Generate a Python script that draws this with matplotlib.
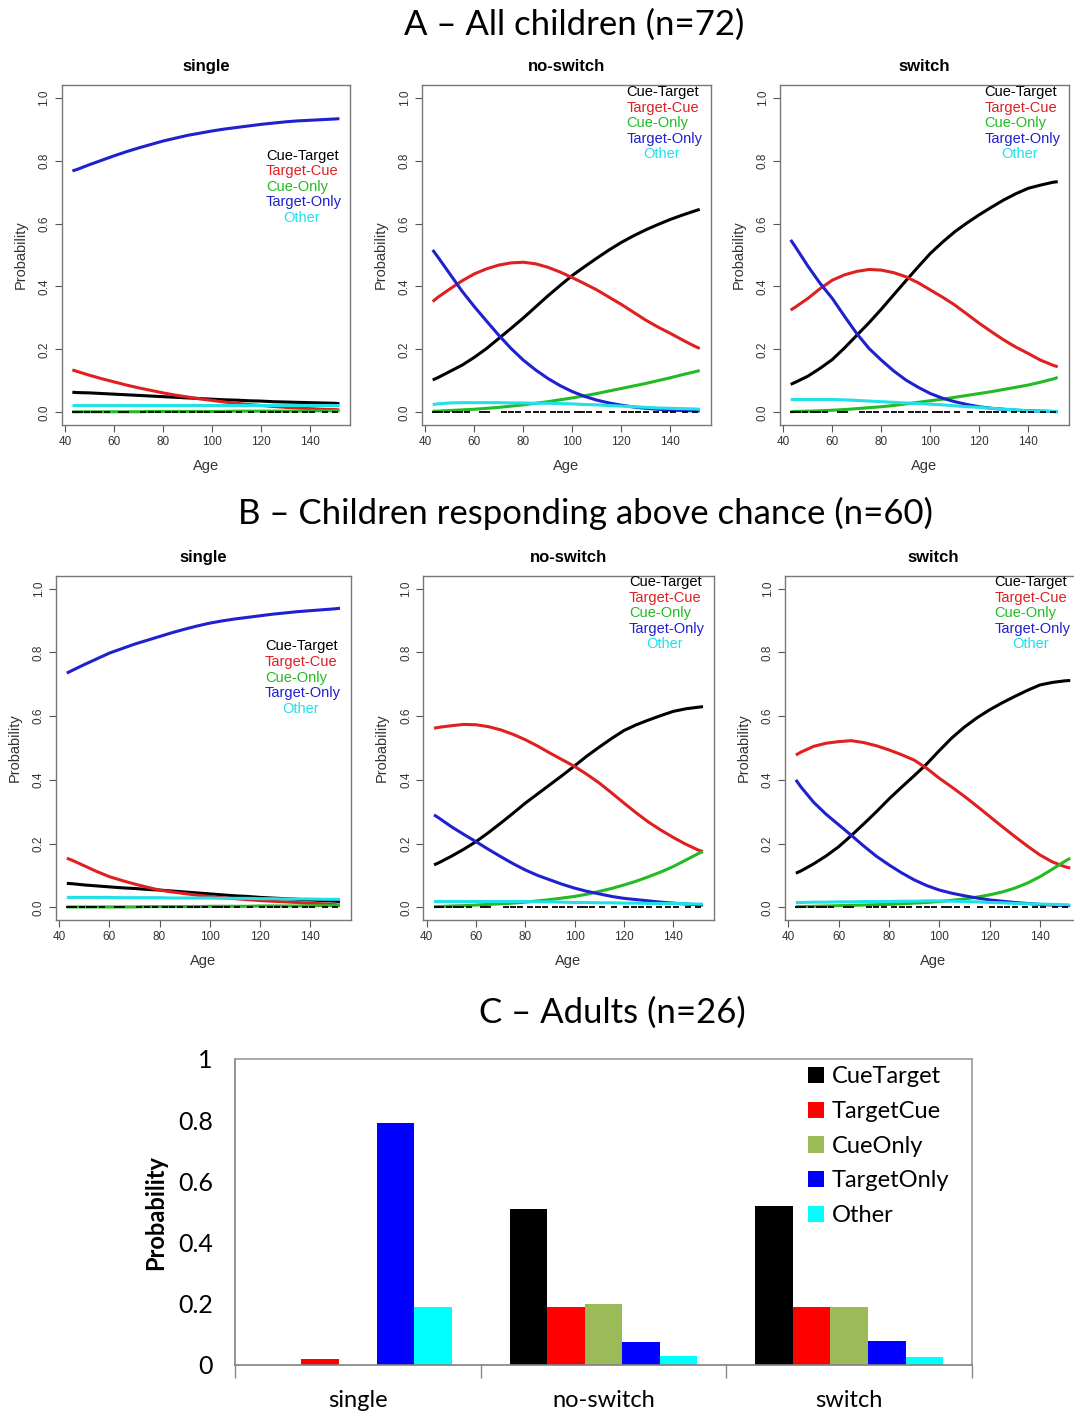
import numpy as np
import matplotlib
matplotlib.use("Agg")
from matplotlib import pyplot as plt

# ---------- data: fitted probabilities by age ----------
ages = [43, 45, 50, 55, 60, 65, 70, 75, 80, 85, 90, 95, 100, 105, 110, 115, 120, 125, 130, 135, 140, 145, 150, 152]

# A - all children
a_single = {
    'Cue-Target':  [.064, .063, .062, .060, .058, .056, .054, .052, .050, .048, .046, .044, .042, .040, .039, .037, .036, .034, .033, .032, .031, .030, .029, .028],
    'Target-Cue':  [.135, .130, .118, .107, .097, .087, .078, .070, .062, .055, .049, .043, .038, .033, .029, .025, .022, .019, .016, .014, .012, .010, .009, .008],
    'Cue-Only':    [.002, .002, .002, .002, .002, .002, .002, .003, .003, .003, .003, .003, .003, .003, .004, .004, .004, .004, .004, .004, .005, .005, .005, .005],
    'Target-Only': [.767, .772, .787, .801, .815, .828, .840, .851, .862, .871, .880, .887, .894, .900, .905, .910, .915, .919, .923, .926, .928, .930, .932, .933],
    'Other':       [.025, .025, .025, .025, .025, .025, .025, .025, .025, .025, .025, .025, .025, .025, .025, .025, .025, .025, .025, .025, .025, .025, .025, .025],
}
a_noswitch = {
    'Cue-Target':  [.103, .110, .130, .150, .175, .203, .235, .267, .300, .335, .370, .403, .435, .463, .490, .516, .540, .561, .580, .597, .613, .627, .640, .645],
    'Target-Cue':  [.352, .365, .392, .418, .440, .456, .468, .475, .477, .472, .461, .446, .428, .409, .389, .366, .343, .318, .293, .271, .251, .230, .210, .203],
    'Cue-Only':    [.004, .004, .006, .008, .010, .013, .016, .020, .024, .029, .034, .040, .046, .053, .060, .068, .076, .084, .092, .101, .110, .120, .129, .133],
    'Target-Only': [.516, .495, .440, .385, .336, .290, .245, .203, .166, .135, .108, .085, .066, .051, .039, .030, .023, .017, .013, .010, .007, .006, .005, .005],
    'Other':       [.025, .027, .030, .031, .031, .031, .031, .030, .030, .029, .029, .028, .027, .025, .024, .022, .020, .018, .016, .014, .013, .012, .011, .010],
}
a_switch = {
    'Cue-Target':  [.089, .096, .115, .140, .168, .205, .245, .285, .328, .373, .418, .462, .505, .541, .574, .602, .628, .652, .675, .695, .712, .722, .731, .733],
    'Target-Cue':  [.325, .335, .362, .393, .420, .437, .448, .454, .452, .444, .431, .412, .389, .366, .341, .312, .283, .256, .230, .207, .187, .166, .150, .145],
    'Cue-Only':    [.002, .003, .004, .005, .007, .009, .012, .015, .018, .022, .027, .032, .037, .042, .048, .054, .060, .066, .073, .080, .087, .096, .106, .111],
    'Target-Only': [.548, .525, .465, .410, .362, .305, .250, .203, .166, .132, .103, .080, .060, .045, .034, .025, .018, .013, .010, .007, .005, .004, .003, .002],
    'Other':       [.041, .041, .041, .041, .041, .040, .038, .036, .034, .032, .030, .028, .026, .024, .021, .018, .016, .013, .010, .008, .005, .004, .003, .003],
}

# B - children responding above chance
b_single = {
    'Cue-Target':  [.075, .074, .070, .067, .064, .061, .059, .056, .054, .051, .048, .045, .042, .039, .036, .034, .031, .029, .027, .025, .023, .021, .019, .018],
    'Target-Cue':  [.154, .148, .130, .112, .096, .084, .073, .063, .054, .048, .043, .038, .034, .030, .027, .024, .021, .019, .017, .015, .013, .011, .008, .007],
    'Cue-Only':    [.001, .001, .001, .001, .001, .001, .001, .002, .002, .002, .002, .002, .003, .003, .003, .003, .004, .004, .004, .004, .005, .005, .005, .005],
    'Target-Only': [.735, .743, .762, .780, .798, .812, .826, .838, .850, .862, .873, .883, .892, .899, .905, .910, .915, .920, .924, .928, .931, .934, .937, .939],
    'Other':       [.031, .031, .031, .031, .031, .030, .030, .030, .030, .029, .029, .029, .029, .028, .028, .028, .027, .027, .026, .026, .026, .025, .025, .025],
}
b_noswitch = {
    'Cue-Target':  [.133, .140, .160, .182, .206, .234, .264, .295, .327, .356, .385, .414, .444, .475, .503, .530, .555, .573, .588, .602, .615, .623, .628, .630],
    'Target-Cue':  [.562, .565, .570, .574, .573, .567, .557, .543, .526, .506, .484, .463, .442, .417, .390, .359, .327, .296, .267, .242, .219, .198, .180, .175],
    'Cue-Only':    [.002, .002, .004, .005, .007, .009, .011, .013, .016, .020, .024, .029, .034, .041, .050, .059, .070, .082, .096, .111, .128, .148, .168, .175],
    'Target-Only': [.290, .280, .253, .229, .206, .182, .159, .137, .117, .100, .086, .072, .060, .050, .042, .034, .028, .024, .020, .016, .013, .010, .008, .007],
    'Other':       [.018, .018, .018, .018, .018, .018, .018, .018, .018, .017, .017, .016, .015, .015, .014, .014, .013, .013, .012, .012, .012, .011, .010, .010],
}
b_switch = {
    'Cue-Target':  [.107, .114, .136, .161, .190, .225, .262, .300, .340, .377, .413, .450, .492, .532, .566, .595, .620, .642, .662, .681, .698, .706, .711, .712],
    'Target-Cue':  [.478, .487, .505, .515, .520, .523, .517, .507, .494, .479, .462, .436, .405, .377, .348, .317, .285, .253, .222, .192, .164, .142, .127, .123],
    'Cue-Only':    [.002, .002, .003, .004, .005, .006, .007, .008, .009, .011, .013, .015, .018, .022, .026, .032, .039, .048, .060, .076, .096, .120, .145, .154],
    'Target-Only': [.400, .378, .330, .292, .259, .226, .192, .160, .133, .108, .086, .068, .054, .044, .036, .029, .023, .019, .015, .012, .009, .007, .005, .005],
    'Other':       [.015, .015, .016, .016, .017, .017, .018, .018, .018, .019, .019, .020, .020, .019, .018, .017, .015, .014, .012, .011, .010, .009, .008, .007],
}

# ages of observed children (small rug marks on the zero line)
rug_ages = [44, 46, 49, 52, 54, 57, 63, 65, 72, 75, 78, 82, 85, 88, 92, 95, 98,
            102, 104, 107, 111, 116, 121, 124, 127, 130, 134, 138, 141, 146, 150]

# C - adults
conditions = ['single', 'no-switch', 'switch']
adult_labels = ['CueTarget', 'TargetCue', 'CueOnly', 'TargetOnly', 'Other']
cue_target = [0.0, 0.51, 0.52]
target_cue = [0.02, 0.19, 0.19]
cue_only = [0.0, 0.20, 0.19]
target_only = [0.79, 0.075, 0.08]
other = [0.19, 0.03, 0.025]

# ---------- styling ----------
W, H = 1074, 1412
line_cols = {'Cue-Target': 'black', 'Target-Cue': '#e02020', 'Cue-Only': '#22bb22',
             'Target-Only': '#2020d0', 'Other': '#20e0e8'}
bar_cols = ['black', '#ff0000', '#9bbb59', '#0000ff', '#00ffff']
r_font = 'Liberation Sans'
x_font = 'Lato'
plt.rcParams['font.family'] = r_font

fig = plt.figure(figsize=(W / 100, H / 100), dpi=100)


def px_axes(left, top, right, bottom):
    return fig.add_axes([left / W, 1 - bottom / H, (right - left) / W, (bottom - top) / H])


def r_panel(ax, data, title, leg_y):
    for name, vals in data.items():
        ax.plot(ages, vals, color=line_cols[name], lw=2.2, solid_capstyle='butt')
    ax.plot(rug_ages, np.zeros(len(rug_ages)), ls='none', marker='_', ms=5, mew=1.3, color='black')
    ax.set_xlim(38.6, 156.4)
    ax.set_ylim(-0.04, 1.04)
    ax.set_xticks([40, 60, 80, 100, 120, 140])
    ax.set_yticks([0, 0.2, 0.4, 0.6, 0.8, 1.0])
    ax.set_yticklabels(['0.0', '0.2', '0.4', '0.6', '0.8', '1.0'], rotation=90, va='center')
    for s in ax.spines.values():
        s.set_color('#777777')
        s.set_linewidth(1.0)
    ax.tick_params(direction='out', length=5, width=0.8, color='#555555',
                   labelsize=8.5, labelcolor='#333333', pad=3)
    ax.set_xlabel('Age', fontsize=10.5, color='#333333', labelpad=8)
    ax.set_ylabel('Probability', fontsize=10.5, color='#333333', labelpad=8)
    ax.set_title(title, fontsize=12, fontweight='bold', pad=10)
    for i, name in enumerate(line_cols):
        x = 129 if name == 'Other' else 122
        ax.text(x, leg_y - i * 0.049, name, color=line_cols[name], fontsize=10.5,
                ha='left', va='center')


# ---------- panel A ----------
fig.text(574 / W, 1 - 25 / H, 'A \u2013 All children (n=72)', ha='center', va='center',
         fontsize=25, family=x_font)
axA = [px_axes(61.6, 85, 350.2, 425),
       px_axes(421.9, 85, 710.5, 425),
       px_axes(779.9, 85, 1068.5, 425)]
r_panel(axA[0], a_single, 'single', 0.815)
r_panel(axA[1], a_noswitch, 'no-switch', 1.017)
r_panel(axA[2], a_switch, 'switch', 1.017)

# ---------- panel B ----------
fig.text(585 / W, 1 - 513 / H, 'B \u2013 Children responding above chance (n=60)', ha='center',
         va='center', fontsize=25, family=x_font)
axB = [px_axes(55.8, 576, 351, 920),
       px_axes(423.2, 576, 713.8, 920),
       px_axes(784.8, 576, 1081.3, 920)]
r_panel(axB[0], b_single, 'single', 0.819)
r_panel(axB[1], b_noswitch, 'no-switch', 1.021)
r_panel(axB[2], b_switch, 'switch', 1.021)

# ---------- panel C ----------
fig.text(612 / W, 1 - 1013 / H, 'C \u2013 Adults (n=26)', ha='center', va='center',
         fontsize=25, family=x_font)
axC = px_axes(235, 1059, 972, 1365)
series = [cue_target, target_cue, cue_only, target_only, other]
xpos = np.arange(1, len(conditions) + 1)
bw = 0.153
for i, (vals, lab) in enumerate(zip(series, adult_labels)):
    axC.bar(xpos + (i - 2) * bw, vals, width=bw, color=bar_cols[i], label=lab, linewidth=0)
axC.set_xlim(0.5, 3.5)
axC.set_ylim(0, 1)
axC.set_yticks([0, 0.2, 0.4, 0.6, 0.8, 1.0])
axC.set_yticklabels(['0', '0.2', '0.4', '0.6', '0.8', '1'], family=x_font, fontsize=18)
axC.set_xticks(xpos)
axC.set_xticklabels(conditions, family=x_font, fontsize=17)
axC.set_xticks([0.5, 1.5, 2.5, 3.5], minor=True)
axC.tick_params(axis='x', which='major', length=0, pad=18)
axC.tick_params(axis='x', which='minor', length=9, color='#888888', width=1)
axC.tick_params(axis='y', length=0, pad=16)
for side, s in axC.spines.items():
    s.set_color('#999999' if side in ('top', 'right') else '#808080')
    s.set_linewidth(1.2)
axC.set_ylabel('Probability', fontsize=17, fontweight='bold', family=x_font, labelpad=8)
axC.legend(loc='upper left', bbox_to_anchor=(0.755, 1.03), frameon=False, prop={'family': x_font, 'size': 17},
           handlelength=0.7, handleheight=0.7, handletextpad=0.3, labelspacing=0.58, borderaxespad=0.3)

fig.savefig('out.png', dpi=100, facecolor='white')
